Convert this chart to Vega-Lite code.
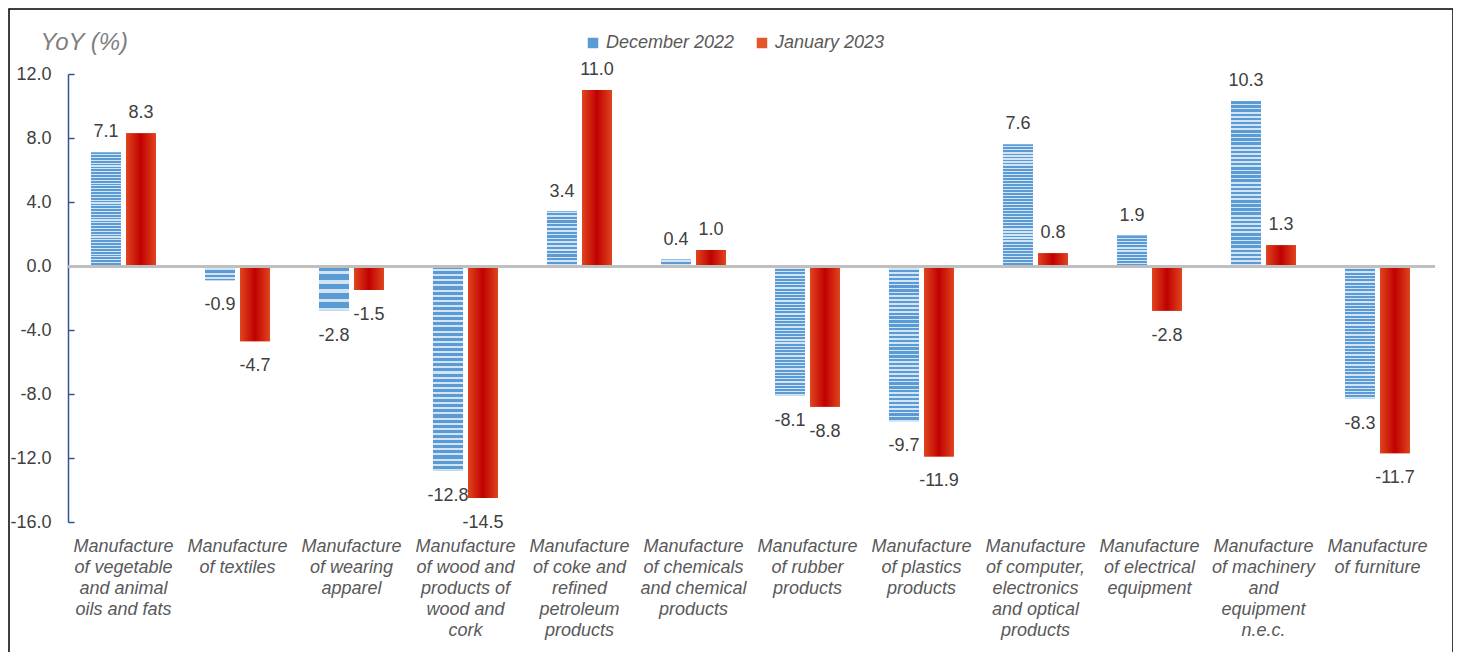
{
  "$schema": "https://vega.github.io/schema/vega-lite/v6.json",
  "width": 1444,
  "height": 644,
  "autosize": {"type": "none"},
  "padding": {"left": 9, "top": 9, "right": 0, "bottom": 0},
  "background": "#ffffff",
  "config": {
    "view": {"stroke": "#000000", "strokeWidth": 1.5},
    "font": "Liberation Sans",
    "locale": {
      "number": {"decimal": ".", "thousands": ",", "grouping": [3], "currency": ["", ""], "minus": "-"}
    }
  },
  "data": {
    "values": [
      {"industry": "Manufacture|of vegetable|and animal|oils and fats", "series": "December 2022", "value": 7.1},
      {"industry": "Manufacture|of vegetable|and animal|oils and fats", "series": "January 2023", "value": 8.3},
      {"industry": "Manufacture|of textiles", "series": "December 2022", "value": -0.9},
      {"industry": "Manufacture|of textiles", "series": "January 2023", "value": -4.7},
      {"industry": "Manufacture|of wearing|apparel", "series": "December 2022", "value": -2.8},
      {"industry": "Manufacture|of wearing|apparel", "series": "January 2023", "value": -1.5},
      {"industry": "Manufacture|of wood and|products of|wood and|cork", "series": "December 2022", "value": -12.8},
      {"industry": "Manufacture|of wood and|products of|wood and|cork", "series": "January 2023", "value": -14.5},
      {"industry": "Manufacture|of coke and|refined|petroleum|products", "series": "December 2022", "value": 3.4},
      {"industry": "Manufacture|of coke and|refined|petroleum|products", "series": "January 2023", "value": 11.0},
      {"industry": "Manufacture|of chemicals|and chemical|products", "series": "December 2022", "value": 0.4},
      {"industry": "Manufacture|of chemicals|and chemical|products", "series": "January 2023", "value": 1.0},
      {"industry": "Manufacture|of rubber|products", "series": "December 2022", "value": -8.1},
      {"industry": "Manufacture|of rubber|products", "series": "January 2023", "value": -8.8},
      {"industry": "Manufacture|of plastics|products", "series": "December 2022", "value": -9.7},
      {"industry": "Manufacture|of plastics|products", "series": "January 2023", "value": -11.9},
      {"industry": "Manufacture|of computer,|electronics|and optical|products", "series": "December 2022", "value": 7.6},
      {"industry": "Manufacture|of computer,|electronics|and optical|products", "series": "January 2023", "value": 0.8},
      {"industry": "Manufacture|of electrical|equipment", "series": "December 2022", "value": 1.9},
      {"industry": "Manufacture|of electrical|equipment", "series": "January 2023", "value": -2.8},
      {"industry": "Manufacture|of machinery|and|equipment|n.e.c.", "series": "December 2022", "value": 10.3},
      {"industry": "Manufacture|of machinery|and|equipment|n.e.c.", "series": "January 2023", "value": 1.3},
      {"industry": "Manufacture|of furniture", "series": "December 2022", "value": -8.3},
      {"industry": "Manufacture|of furniture", "series": "January 2023", "value": -11.7}
    ]
  },
  "resolve": {"axis": {"x": "independent"}},
  "layer": [
    {
      "mark": {"type": "bar"},
      "encoding": {
        "x": {
          "field": "industry", "type": "nominal", "sort": null,
          "scale": {"range": [57.5, 1425.5], "paddingInner": 0.43, "paddingOuter": 0.215},
          "axis": {
            "orient": "bottom", "offset": -116, "title": null, "domain": false, "ticks": false, "tickSize": 0,
            "labelPadding": 0, "labelAngle": 0, "labelAlign": "center", "labelBaseline": "top",
            "labelExpr": "split(datum.value, '|')", "labelLineHeight": 21,
            "labelFontSize": 18, "labelFontStyle": "italic", "labelColor": "#595959", "labelLimit": 300
          }
        },
        "xOffset": {
          "field": "series", "type": "nominal",
          "scale": {"domain": ["December 2022", "January 2023"], "paddingInner": 0.143, "paddingOuter": 0}
        },
        "y": {
          "field": "value", "type": "quantitative",
          "scale": {"domain": [-16, 12], "range": [513, 65], "nice": false, "zero": false},
          "axis": {
            "values": [-16, -12, -8, -4, 0, 4, 8, 12], "format": ".1f", "offset": -59, "grid": false,
            "domainColor": "#2F5597", "domainWidth": 1.5, "tickColor": "#2F5597", "tickWidth": 1.5, "tickSize": -6,
            "labelPadding": 23, "labelFontSize": 18, "labelColor": "#404040",
            "title": "YoY (%)", "titleAngle": 0, "titleAlign": "left", "titleBaseline": "middle",
            "titleX": -28, "titleY": 33, "titleFontSize": 24, "titleFontStyle": "italic",
            "titleFontWeight": "normal", "titleColor": "#7F7F7F"
          }
        },
        "color": {
          "field": "series", "type": "nominal",
          "scale": {"domain": ["December 2022", "January 2023"], "range": ["#5B9BD5", "#E2562A"]},
          "legend": {
            "orient": "none", "direction": "horizontal", "legendX": 575, "legendY": 25, "title": null,
            "symbolType": "square", "symbolSize": 110, "symbolStrokeWidth": 0, "columnPadding": 18,
            "labelFontSize": 18, "labelFontStyle": "italic", "labelColor": "#595959", "labelOffset": 4
          }
        }
      }
    },
    {
      "transform": [{"filter": "datum.series === 'December 2022'"}],
      "mark": {
        "type": "bar",
        "fill": {
          "gradient": "linear", "x1": 0, "y1": 0, "x2": 0, "y2": 1,
          "stops": [
            {"offset": 0, "color": "#5B9BD5"}, {"offset": 0.015, "color": "#5B9BD5"}, {"offset": 0.015, "color": "#D3E4F4"}, {"offset": 0.025, "color": "#D3E4F4"},
            {"offset": 0.025, "color": "#5B9BD5"}, {"offset": 0.04, "color": "#5B9BD5"}, {"offset": 0.04, "color": "#D3E4F4"}, {"offset": 0.05, "color": "#D3E4F4"},
            {"offset": 0.05, "color": "#5B9BD5"}, {"offset": 0.065, "color": "#5B9BD5"}, {"offset": 0.065, "color": "#D3E4F4"}, {"offset": 0.075, "color": "#D3E4F4"},
            {"offset": 0.075, "color": "#5B9BD5"}, {"offset": 0.09, "color": "#5B9BD5"}, {"offset": 0.09, "color": "#D3E4F4"}, {"offset": 0.1, "color": "#D3E4F4"},
            {"offset": 0.1, "color": "#5B9BD5"}, {"offset": 0.115, "color": "#5B9BD5"}, {"offset": 0.115, "color": "#D3E4F4"}, {"offset": 0.125, "color": "#D3E4F4"},
            {"offset": 0.125, "color": "#5B9BD5"}, {"offset": 0.14, "color": "#5B9BD5"}, {"offset": 0.14, "color": "#D3E4F4"}, {"offset": 0.15, "color": "#D3E4F4"},
            {"offset": 0.15, "color": "#5B9BD5"}, {"offset": 0.165, "color": "#5B9BD5"}, {"offset": 0.165, "color": "#D3E4F4"}, {"offset": 0.175, "color": "#D3E4F4"},
            {"offset": 0.175, "color": "#5B9BD5"}, {"offset": 0.19, "color": "#5B9BD5"}, {"offset": 0.19, "color": "#D3E4F4"}, {"offset": 0.2, "color": "#D3E4F4"},
            {"offset": 0.2, "color": "#5B9BD5"}, {"offset": 0.215, "color": "#5B9BD5"}, {"offset": 0.215, "color": "#D3E4F4"}, {"offset": 0.225, "color": "#D3E4F4"},
            {"offset": 0.225, "color": "#5B9BD5"}, {"offset": 0.24, "color": "#5B9BD5"}, {"offset": 0.24, "color": "#D3E4F4"}, {"offset": 0.25, "color": "#D3E4F4"},
            {"offset": 0.25, "color": "#5B9BD5"}, {"offset": 0.265, "color": "#5B9BD5"}, {"offset": 0.265, "color": "#D3E4F4"}, {"offset": 0.275, "color": "#D3E4F4"},
            {"offset": 0.275, "color": "#5B9BD5"}, {"offset": 0.29, "color": "#5B9BD5"}, {"offset": 0.29, "color": "#D3E4F4"}, {"offset": 0.3, "color": "#D3E4F4"},
            {"offset": 0.3, "color": "#5B9BD5"}, {"offset": 0.315, "color": "#5B9BD5"}, {"offset": 0.315, "color": "#D3E4F4"}, {"offset": 0.325, "color": "#D3E4F4"},
            {"offset": 0.325, "color": "#5B9BD5"}, {"offset": 0.34, "color": "#5B9BD5"}, {"offset": 0.34, "color": "#D3E4F4"}, {"offset": 0.35, "color": "#D3E4F4"},
            {"offset": 0.35, "color": "#5B9BD5"}, {"offset": 0.365, "color": "#5B9BD5"}, {"offset": 0.365, "color": "#D3E4F4"}, {"offset": 0.375, "color": "#D3E4F4"},
            {"offset": 0.375, "color": "#5B9BD5"}, {"offset": 0.39, "color": "#5B9BD5"}, {"offset": 0.39, "color": "#D3E4F4"}, {"offset": 0.4, "color": "#D3E4F4"},
            {"offset": 0.4, "color": "#5B9BD5"}, {"offset": 0.415, "color": "#5B9BD5"}, {"offset": 0.415, "color": "#D3E4F4"}, {"offset": 0.425, "color": "#D3E4F4"},
            {"offset": 0.425, "color": "#5B9BD5"}, {"offset": 0.44, "color": "#5B9BD5"}, {"offset": 0.44, "color": "#D3E4F4"}, {"offset": 0.45, "color": "#D3E4F4"},
            {"offset": 0.45, "color": "#5B9BD5"}, {"offset": 0.465, "color": "#5B9BD5"}, {"offset": 0.465, "color": "#D3E4F4"}, {"offset": 0.475, "color": "#D3E4F4"},
            {"offset": 0.475, "color": "#5B9BD5"}, {"offset": 0.49, "color": "#5B9BD5"}, {"offset": 0.49, "color": "#D3E4F4"}, {"offset": 0.5, "color": "#D3E4F4"},
            {"offset": 0.5, "color": "#5B9BD5"}, {"offset": 0.515, "color": "#5B9BD5"}, {"offset": 0.515, "color": "#D3E4F4"}, {"offset": 0.525, "color": "#D3E4F4"},
            {"offset": 0.525, "color": "#5B9BD5"}, {"offset": 0.54, "color": "#5B9BD5"}, {"offset": 0.54, "color": "#D3E4F4"}, {"offset": 0.55, "color": "#D3E4F4"},
            {"offset": 0.55, "color": "#5B9BD5"}, {"offset": 0.565, "color": "#5B9BD5"}, {"offset": 0.565, "color": "#D3E4F4"}, {"offset": 0.575, "color": "#D3E4F4"},
            {"offset": 0.575, "color": "#5B9BD5"}, {"offset": 0.59, "color": "#5B9BD5"}, {"offset": 0.59, "color": "#D3E4F4"}, {"offset": 0.6, "color": "#D3E4F4"},
            {"offset": 0.6, "color": "#5B9BD5"}, {"offset": 0.615, "color": "#5B9BD5"}, {"offset": 0.615, "color": "#D3E4F4"}, {"offset": 0.625, "color": "#D3E4F4"},
            {"offset": 0.625, "color": "#5B9BD5"}, {"offset": 0.64, "color": "#5B9BD5"}, {"offset": 0.64, "color": "#D3E4F4"}, {"offset": 0.65, "color": "#D3E4F4"},
            {"offset": 0.65, "color": "#5B9BD5"}, {"offset": 0.665, "color": "#5B9BD5"}, {"offset": 0.665, "color": "#D3E4F4"}, {"offset": 0.675, "color": "#D3E4F4"},
            {"offset": 0.675, "color": "#5B9BD5"}, {"offset": 0.69, "color": "#5B9BD5"}, {"offset": 0.69, "color": "#D3E4F4"}, {"offset": 0.7, "color": "#D3E4F4"},
            {"offset": 0.7, "color": "#5B9BD5"}, {"offset": 0.715, "color": "#5B9BD5"}, {"offset": 0.715, "color": "#D3E4F4"}, {"offset": 0.725, "color": "#D3E4F4"},
            {"offset": 0.725, "color": "#5B9BD5"}, {"offset": 0.74, "color": "#5B9BD5"}, {"offset": 0.74, "color": "#D3E4F4"}, {"offset": 0.75, "color": "#D3E4F4"},
            {"offset": 0.75, "color": "#5B9BD5"}, {"offset": 0.765, "color": "#5B9BD5"}, {"offset": 0.765, "color": "#D3E4F4"}, {"offset": 0.775, "color": "#D3E4F4"},
            {"offset": 0.775, "color": "#5B9BD5"}, {"offset": 0.79, "color": "#5B9BD5"}, {"offset": 0.79, "color": "#D3E4F4"}, {"offset": 0.8, "color": "#D3E4F4"},
            {"offset": 0.8, "color": "#5B9BD5"}, {"offset": 0.815, "color": "#5B9BD5"}, {"offset": 0.815, "color": "#D3E4F4"}, {"offset": 0.825, "color": "#D3E4F4"},
            {"offset": 0.825, "color": "#5B9BD5"}, {"offset": 0.84, "color": "#5B9BD5"}, {"offset": 0.84, "color": "#D3E4F4"}, {"offset": 0.85, "color": "#D3E4F4"},
            {"offset": 0.85, "color": "#5B9BD5"}, {"offset": 0.865, "color": "#5B9BD5"}, {"offset": 0.865, "color": "#D3E4F4"}, {"offset": 0.875, "color": "#D3E4F4"},
            {"offset": 0.875, "color": "#5B9BD5"}, {"offset": 0.89, "color": "#5B9BD5"}, {"offset": 0.89, "color": "#D3E4F4"}, {"offset": 0.9, "color": "#D3E4F4"},
            {"offset": 0.9, "color": "#5B9BD5"}, {"offset": 0.915, "color": "#5B9BD5"}, {"offset": 0.915, "color": "#D3E4F4"}, {"offset": 0.925, "color": "#D3E4F4"},
            {"offset": 0.925, "color": "#5B9BD5"}, {"offset": 0.94, "color": "#5B9BD5"}, {"offset": 0.94, "color": "#D3E4F4"}, {"offset": 0.95, "color": "#D3E4F4"},
            {"offset": 0.95, "color": "#5B9BD5"}, {"offset": 0.965, "color": "#5B9BD5"}, {"offset": 0.965, "color": "#D3E4F4"}, {"offset": 0.975, "color": "#D3E4F4"},
            {"offset": 0.975, "color": "#5B9BD5"}, {"offset": 0.99, "color": "#5B9BD5"}, {"offset": 0.99, "color": "#D3E4F4"}, {"offset": 1, "color": "#D3E4F4"}
          ]
        }
      },
      "encoding": {
        "x": {"field": "industry", "type": "nominal", "sort": null, "axis": null},
        "xOffset": {"field": "series", "type": "nominal"},
        "y": {"field": "value", "type": "quantitative"}
      }
    },
    {
      "transform": [{"filter": "datum.series === 'January 2023'"}],
      "mark": {
        "type": "bar",
        "fill": {
          "gradient": "linear", "x1": 0, "y1": 0, "x2": 1, "y2": 0,
          "stops": [
            {"offset": 0, "color": "#E0461F"},
            {"offset": 0.5, "color": "#C00000"},
            {"offset": 1, "color": "#E0461F"}
          ]
        }
      },
      "encoding": {
        "x": {
          "field": "industry", "type": "nominal", "sort": null,
          "axis": {"orient": "top", "offset": -257, "title": null, "labels": false, "ticks": false,
                   "domain": true, "domainColor": "#BFBFBF", "domainWidth": 3, "zindex": 1}
        },
        "xOffset": {"field": "series", "type": "nominal"},
        "y": {"field": "value", "type": "quantitative"}
      }
    },
    {
      "transform": [{"filter": "datum.value >= 0"}],
      "mark": {"type": "text", "baseline": "middle", "align": "center", "dy": -20, "fontSize": 18, "color": "#404040"},
      "encoding": {
        "x": {"field": "industry", "type": "nominal", "sort": null, "axis": null},
        "xOffset": {"field": "series", "type": "nominal"},
        "y": {"field": "value", "type": "quantitative"},
        "text": {"field": "value", "type": "quantitative", "format": ".1f"}
      }
    },
    {
      "transform": [{"filter": "datum.value < 0"}],
      "mark": {"type": "text", "baseline": "middle", "align": "center", "dy": 25, "fontSize": 18, "color": "#404040"},
      "encoding": {
        "x": {"field": "industry", "type": "nominal", "sort": null, "axis": null},
        "xOffset": {"field": "series", "type": "nominal"},
        "y": {"field": "value", "type": "quantitative"},
        "text": {"field": "value", "type": "quantitative", "format": ".1f"}
      }
    }
  ]
}
